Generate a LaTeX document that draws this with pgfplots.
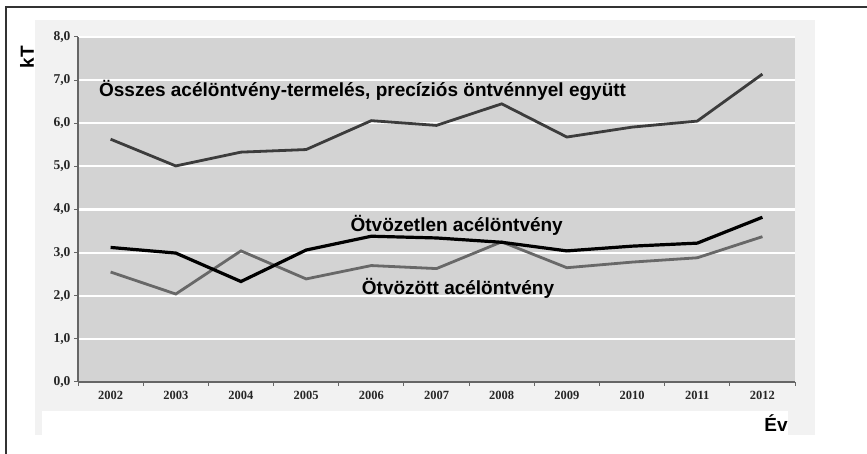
\documentclass[border=0pt]{standalone}
\usepackage{pgfplots}
\pgfplotsset{compat=1.18}
\usepackage{fontspec}
\setmainfont{Liberation Sans}
\newfontfamily\tnr{Liberation Serif}
\definecolor{plotbg}{HTML}{D3D3D3}
\definecolor{chartbg}{HTML}{F2F2F2}
\definecolor{totc}{HTML}{3C3C3C}
\definecolor{allc}{HTML}{686868}
\begin{document}
\begin{tikzpicture}[x=1pt,y=1pt]
\useasboundingbox (0,0) rectangle (867,454);
\fill[white] (0,0) rectangle (867,454);
\fill[chartbg] (35,19) rectangle (815,434);
\fill[white] (42,19) rectangle (788,43);
\draw[line width=1.5pt, black!80] (6,0) -- (6,447) -- (867,447);
\node[font=\bfseries\fontsize{19}{19}\selectfont, rotate=90] at (27,397) {kT};
\node[font=\bfseries\fontsize{19}{19}\selectfont] at (776,31) {Év};
\begin{axis}[
  at={(78pt,72pt)}, anchor=south west,
  scale only axis, width=717pt, height=345pt,
  xmin=-0.5, xmax=10.5, ymin=0, ymax=8,
  axis background/.style={fill=plotbg},
  axis x line*=bottom, axis y line*=left,
  axis line style={-, draw=gray!80!black, line width=1.2pt},
  xtick={0,...,10},
  xticklabels={2002,2003,2004,2005,2006,2007,2008,2009,2010,2011,2012},
  xtick style={draw=none},
  minor xtick={-0.5,0.5,...,10.5},
  minor tick length=4pt, major tick length=4pt,
  tick align=outside,
  minor x tick style={draw=gray!80!black, line width=1pt},
  y tick style={draw=gray!80!black, line width=1pt},
  ytick={0,1,...,8},
  /pgf/number format/assume math mode=true,
  yticklabel style={/pgf/number format/.cd, fixed, fixed zerofill, precision=1, use comma, /tikz/.cd, font=\tnr\bfseries\fontsize{13.5}{13.5}\selectfont},
  xticklabel style={yshift=-2pt, font=\tnr\bfseries\fontsize{12.5}{12.5}\selectfont},
  ticklabel style={text=black!85},
  ymajorgrids, major grid style={white, line width=2.2pt},
  clip=false,
]
\addplot[totc, line width=2.8pt] coordinates {
(0,5.63) (1,5.01) (2,5.33) (3,5.39) (4,6.06) (5,5.95) (6,6.45) (7,5.68) (8,5.91) (9,6.05) (10,7.14)};
\addplot[allc, line width=2.8pt] coordinates {
(0,2.55) (1,2.04) (2,3.04) (3,2.39) (4,2.70) (5,2.63) (6,3.25) (7,2.65) (8,2.78) (9,2.88) (10,3.37)};
\addplot[black, line width=3.2pt] coordinates {
(0,3.12) (1,2.99) (2,2.33) (3,3.06) (4,3.38) (5,3.34) (6,3.24) (7,3.04) (8,3.15) (9,3.22) (10,3.82)};
\node[anchor=west, font=\bfseries\fontsize{19}{19}\selectfont] at (axis cs:-0.23,6.77) {Összes acélöntvény-termelés, precíziós öntvénnyel együtt};
\node[font=\bfseries\fontsize{19}{19}\selectfont] at (axis cs:5.31,3.64) {Ötvözetlen acélöntvény};
\node[font=\bfseries\fontsize{19}{19}\selectfont] at (axis cs:5.33,2.18) {Ötvözött acélöntvény};
\end{axis}
\end{tikzpicture}
\end{document}
